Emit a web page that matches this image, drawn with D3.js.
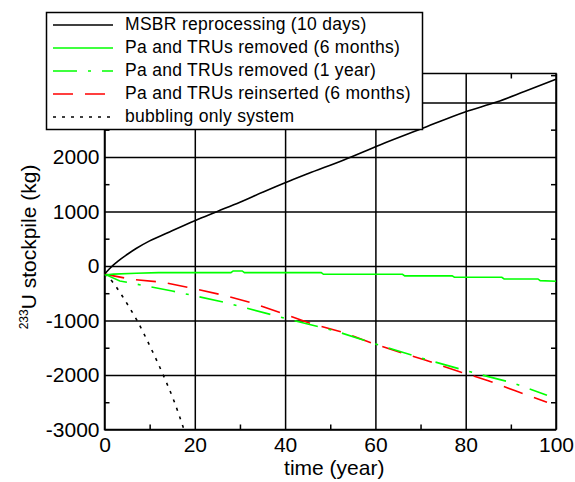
<!DOCTYPE html>
<html>
<head>
<meta charset="utf-8">
<script src="https://cdn.jsdelivr.net/npm/d3@7"></script>
<style>
  body { margin: 0; background: #fff; }
  svg { display: block; font-family: "Liberation Sans", Arial, sans-serif; }
</style>
</head>
<body>
<svg id="chart"></svg>
<script>
const width = 575;
const height = 482;

// axis ticks
const xTicks = [0, 20, 40, 60, 80, 100];
const xMinor = [10, 30, 50, 70, 90];
const yTicks = [-3000, -2000, -1000, 0, 1000, 2000, 3000];
const yMinor = [-2500, -1500, -500, 500, 1500, 2500, 3500];

// series
const msbrT = [0, 1, 2, 3, 5, 7, 10, 14, 20, 25, 30, 35, 40, 45, 53, 61, 70, 80, 87, 93, 100];
const msbrV = [-150, -60, 20, 90, 210, 320, 460, 610, 830, 1000, 1170, 1350, 1525, 1690, 1945, 2220, 2510, 2830, 3010, 3200, 3425];

const pa6T = [0, 2, 7, 12, 28, 28.5, 30.5, 31, 48, 48.5, 66, 66.5, 77, 77.5, 88, 88.5, 96, 96.5, 100];
const pa6V = [-165, -150, -135, -123, -123, -92, -92, -123, -123, -153, -153, -183, -183, -208, -208, -239, -239, -269, -280];

const pa1yT = [0, 3.4, 15, 26, 40, 51, 60, 71, 80, 85, 90, 98];
const pa1yV = [-150, -275, -460, -655, -960, -1190, -1430, -1710, -1920, -2030, -2135, -2370];

const reinsT = [0, 6, 13, 20, 26, 33, 39, 46, 53, 60, 66, 71, 79, 85, 91, 98];
const reinsV = [-150, -245, -300, -420, -530, -685, -857, -1064, -1223, -1437, -1600, -1725, -1950, -2104, -2290, -2500];

const bubT = [0, 1, 2.3, 4, 5.5, 7.2, 10, 13, 15.5, 17.6];
const bubV = [-150, -220, -350, -560, -760, -1000, -1460, -2000, -2500, -3000];

const legendLabels = [
  "MSBR reprocessing (10 days)",
  "Pa and TRUs removed (6 months)",
  "Pa and TRUs removed (1 year)",
  "Pa and TRUs reinserted (6 months)",
  "bubbling only system"
];

const series = [
  { t: msbrT, v: msbrV, color: "#000", dash: null, curve: d3.curveMonotoneX },
  { t: pa6T, v: pa6V, color: "#00ff00", dash: null, curve: d3.curveLinear },
  { t: pa1yT, v: pa1yV, color: "#00ff00", dash: "24,11,3,11", curve: d3.curveLinear },
  { t: reinsT, v: reinsV, color: "#ff0000", dash: "20,12", curve: d3.curveLinear },
  { t: bubT, v: bubV, color: "#000", dash: "3,6", curve: d3.curveMonotoneX }
];

const margin = { top: 73.5, right: 19, bottom: 52.5, left: 104.5 };
const plotW = width - margin.left - margin.right;
const plotH = height - margin.top - margin.bottom;

const svg = d3.select("#chart")
    .attr("width", width)
    .attr("height", height);

const x = d3.scaleLinear().domain([0, 100]).range([margin.left, width - margin.right]);
const y = d3.scaleLinear().domain([-3000, 3530]).range([height - margin.bottom, margin.top]);

svg.append("defs").append("clipPath").attr("id", "plotclip")
  .append("rect")
    .attr("x", margin.left).attr("y", margin.top)
    .attr("width", plotW).attr("height", plotH);

// grid lines
svg.append("g")
    .attr("transform", `translate(0,${height - margin.bottom})`)
    .call(d3.axisBottom(x).tickValues(xTicks).tickSize(-plotH).tickFormat(""))
    .call(g => g.select(".domain").remove())
    .selectAll("line").attr("stroke", "#000").attr("stroke-width", 1.5);

svg.append("g")
    .attr("transform", `translate(${margin.left},0)`)
    .call(d3.axisLeft(y).tickValues(yTicks).tickSize(-plotW).tickFormat(""))
    .call(g => g.select(".domain").remove())
    .selectAll("line").attr("stroke", "#000").attr("stroke-width", 1.5);

// minor ticks on all four sides
const minor = [
  [d3.axisBottom(x).tickValues(xMinor), `translate(0,${height - margin.bottom})`],
  [d3.axisTop(x).tickValues(xMinor), `translate(0,${margin.top})`],
  [d3.axisLeft(y).tickValues(yMinor), `translate(${margin.left},0)`],
  [d3.axisRight(y).tickValues(yMinor), `translate(${width - margin.right},0)`]
];
minor.forEach(([ax, tr]) => {
  svg.append("g")
      .attr("transform", tr)
      .call(ax.tickSize(-5).tickFormat(""))
      .call(g => g.select(".domain").remove())
      .selectAll("line").attr("stroke", "#000").attr("stroke-width", 1.5);
});

// frame
svg.append("rect")
    .attr("x", margin.left).attr("y", margin.top)
    .attr("width", plotW).attr("height", plotH)
    .attr("fill", "none").attr("stroke", "#000").attr("stroke-width", 1.5);

// tick labels
const xAxis = svg.append("g")
    .attr("transform", `translate(0,${height - margin.bottom})`)
    .call(d3.axisBottom(x).tickValues(xTicks).tickSize(0).tickPadding(8));
xAxis.select(".domain").remove();
xAxis.selectAll("text").attr("font-size", "21px").attr("font-family", "Liberation Sans, Arial, sans-serif").attr("fill", "#000");

const yAxis = svg.append("g")
    .attr("transform", `translate(${margin.left},0)`)
    .call(d3.axisLeft(y).tickValues(yTicks).tickSize(0).tickPadding(5).tickFormat(d => d < 0 ? "-" + Math.abs(d) : d));
yAxis.select(".domain").remove();
yAxis.selectAll("text").attr("font-size", "21px").attr("font-family", "Liberation Sans, Arial, sans-serif").attr("fill", "#000");

// data lines
const plot = svg.append("g").attr("clip-path", "url(#plotclip)");
series.slice().reverse().forEach(s => {
  const line = d3.line().x(d => x(d[0])).y(d => y(d[1])).curve(s.curve);
  plot.append("path")
      .datum(s.t.map((t, i) => [t, s.v[i]]))
      .attr("fill", "none")
      .attr("stroke", s.color)
      .attr("stroke-width", 1.6)
      .attr("stroke-dasharray", s.dash)
      .attr("d", line);
});

// axis titles
svg.append("text")
    .attr("x", (margin.left + width - margin.right) / 2 + 4)
    .attr("y", 475)
    .attr("text-anchor", "middle")
    .attr("font-size", "21px")
    .text("time (year)");

const yTitle = svg.append("text")
    .attr("transform", "translate(36,247) rotate(-90)")
    .attr("text-anchor", "middle")
    .attr("font-size", "21px");
yTitle.append("tspan").attr("font-size", "12px").attr("dy", "-8").text("233");
yTitle.append("tspan").attr("dy", "8").text("U stockpile (kg)");

// --- Legend ---
const legend = svg.append("g").attr("class", "legend");
legend.append("rect")
    .attr("x", 46.5).attr("y", 12.5)
    .attr("width", 376).attr("height", 117)
    .attr("fill", "#fff").attr("stroke", "#000").attr("stroke-width", 1.5);

const rowY = d3.scalePoint().domain(d3.range(legendLabels.length)).range([25, 117]);
legendLabels.forEach((label, i) => {
  const s = series[i];
  legend.append("line")
      .attr("x1", 53).attr("x2", 113)
      .attr("y1", rowY(i)).attr("y2", rowY(i))
      .attr("stroke", s.color)
      .attr("stroke-width", 1.6)
      .attr("stroke-dasharray", s.dash);
  legend.append("text")
      .attr("x", 125)
      .attr("y", rowY(i) + 5)
      .attr("font-size", "17.5px")
      .attr("letter-spacing", "0.3px")
      .text(label);
});
</script>
</body>
</html>
